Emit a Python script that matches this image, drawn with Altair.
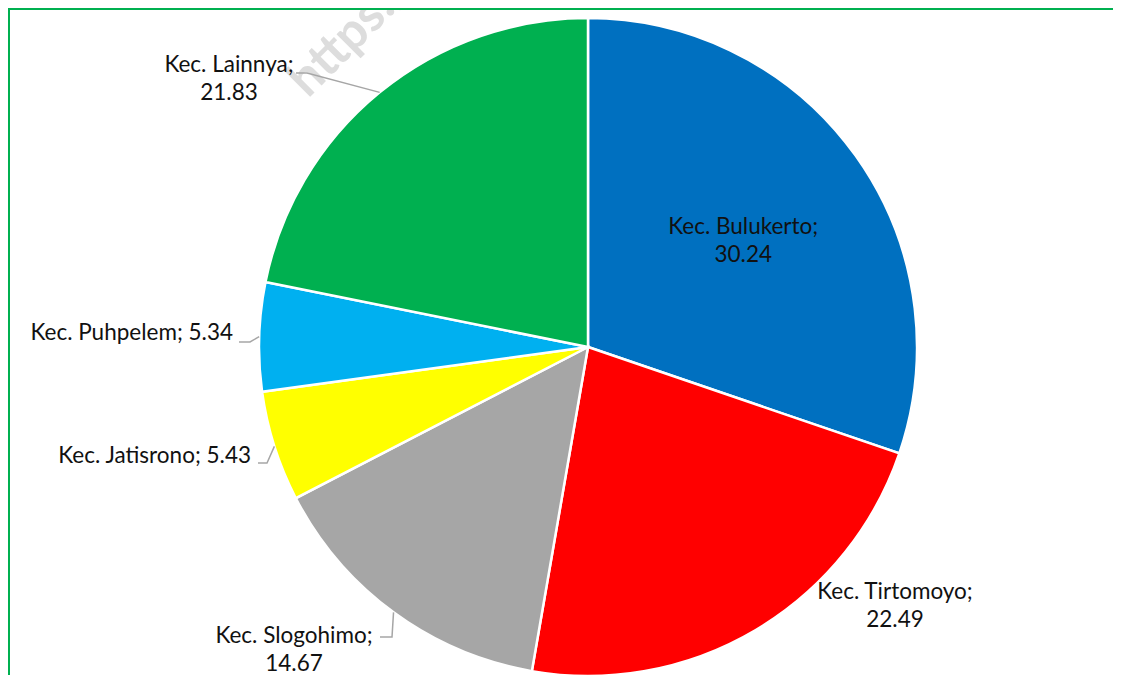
import math
import altair as alt
import pandas as pd

# ---- data ----
categories = ["Kec. Bulukerto", "Kec. Tirtomoyo", "Kec. Slogohimo",
              "Kec. Jatisrono", "Kec. Puhpelem", "Kec. Lainnya"]
values = [30.24, 22.49, 14.67, 5.43, 5.34, 21.83]
colors = ["#0070C0", "#FF0000", "#A6A6A6", "#FFFF00", "#00B0F0", "#00B050"]

# ---- layout (chart pixel space) ----
W, H = 1105, 667
CX, CY, R = 580, 339, 329
FONT = "Lato"
FS = 22.5
LH = 28

# label anchor (middle of first line) and leader start/elbow (layout only)
label_layout = {
    "Kec. Bulukerto": dict(inside=True, radius=0.58 * R),
    "Kec. Tirtomoyo": dict(pos=(887, 584), align="center"),
    "Kec. Slogohimo": dict(pos=(286, 628), align="center", lead=[(372, 629), (384, 629)]),
    "Kec. Jatisrono": dict(pos=(243, 448), align="right", lead=[(250, 455), (259, 455)]),
    "Kec. Puhpelem": dict(pos=(225, 325), align="right", lead=[(231, 334), (242, 334)]),
    "Kec. Lainnya": dict(pos=(221, 57), align="center", lead=[(288, 65), (299, 65)]),
}

total = sum(values)
slices = pd.DataFrame({"cat": categories, "val": values, "order": list(range(len(values)))})

label_rows, lead_rows = [], []
cum = 0.0
for c, v in zip(categories, values):
    mid = 2 * math.pi * (cum + v / 2) / total
    cum += v
    lay = label_layout[c]
    vtxt = f"{v:.2f}"
    if lay.get("inside"):
        r = lay["radius"]
        x, y = CX + r * math.sin(mid), CY - r * math.cos(mid) - LH / 2 + 5
        label_rows.append(dict(cat=c, text=f"{c};\n{vtxt}", x=x, y=y, align="center"))
        continue
    x, y = lay["pos"]
    txt = f"{c}; {vtxt}" if lay["align"] == "right" else f"{c};\n{vtxt}"
    label_rows.append(dict(cat=c, text=txt, x=x, y=y, align=lay["align"]))
    if "lead" in lay:
        pts = lay["lead"] + [(CX + R * math.sin(mid), CY - R * math.cos(mid))]
        for i, (px, py) in enumerate(pts):
            lead_rows.append(dict(cat=c, i=i, x=px, y=py))

labels = pd.DataFrame(label_rows)
leads = pd.DataFrame(lead_rows)

border = alt.Chart(pd.DataFrame({"a": [0]})).mark_rect(
    fillOpacity=0, stroke="#00B050", strokeWidth=2
).encode(x=alt.value(1), y=alt.value(1), x2=alt.value(W + 20), y2=alt.value(H + 20))

watermark = alt.Chart(pd.DataFrame({"t": ["https://www"]})).mark_text(
    font=FONT, fontSize=50, fontWeight="bold", color="#DDDDDD", angle=315,
    align="left", baseline="alphabetic"
).encode(x=alt.value(300), y=alt.value(91), text="t:N")

pie = alt.Chart(slices).mark_arc(
    outerRadius=R, stroke="white", strokeWidth=2.5
).encode(
    theta=alt.Theta("val:Q", stack=True),
    order=alt.Order("order:Q"),
    color=alt.Color("cat:N", scale=alt.Scale(domain=categories, range=colors), legend=None),
    x=alt.value(CX), y=alt.value(CY),
)

lead_lines = alt.Chart(leads).mark_line(color="#A6A6A6", strokeWidth=1.5).encode(
    x=alt.X("x:Q", scale=None, axis=None),
    y=alt.Y("y:Q", scale=None, axis=None),
    detail="cat:N",
    order="i:Q",
)


def text_layer(align):
    return alt.Chart(labels).transform_filter(
        alt.datum.align == align
    ).mark_text(
        font=FONT, fontSize=FS, align=align, baseline="middle",
        lineBreak="\n", lineHeight=LH, color="#111111"
    ).encode(
        x=alt.X("x:Q", scale=None, axis=None),
        y=alt.Y("y:Q", scale=None, axis=None),
        text="text:N",
    )


chart = alt.layer(
    watermark, border, pie, lead_lines, text_layer("center"), text_layer("right")
).properties(
    width=W, height=H, autosize="none", padding=0
).configure_view(stroke=None)

chart.save("out.html", embed_options={"renderer": "svg", "actions": False})
